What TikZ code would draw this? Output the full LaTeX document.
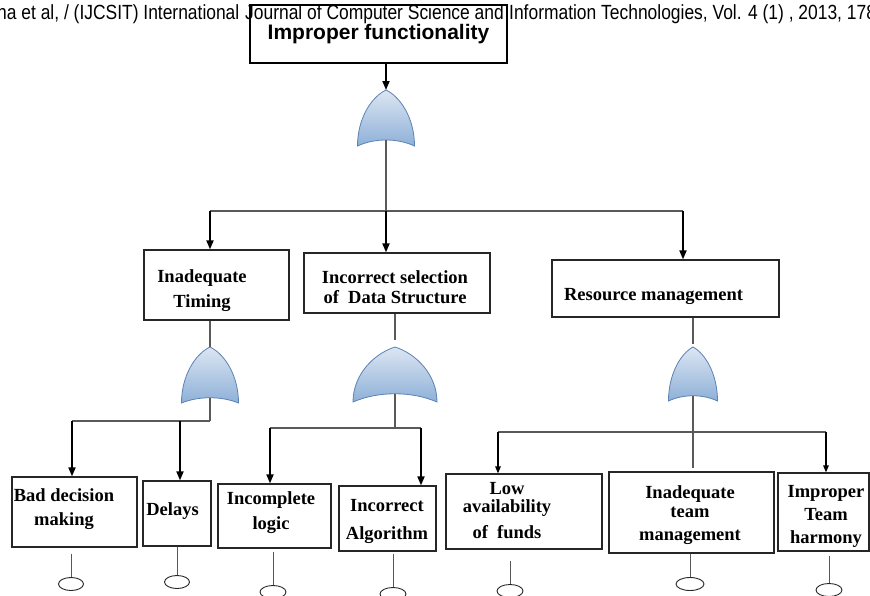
\documentclass[tikz,border=0pt]{standalone}
\usepackage{fontspec}
\setmainfont{Liberation Serif}
\newfontfamily\arialfont{Liberation Sans}
\usetikzlibrary{arrows.meta,shapes.geometric}

\definecolor{gatetop}{HTML}{DCE6F2}
\definecolor{gatebot}{HTML}{8EB0D8}
\definecolor{gateedge}{HTML}{5A82B4}

\tikzset{
  box/.style={draw=black!85, line width=1.2pt, inner sep=0pt},
  lbl/.style={font=\bfseries\fontsize{18.5}{23}\selectfont, align=center, inner sep=0pt},
  headtxt/.style={inner sep=0pt, anchor=base west, font=\arialfont\fontsize{20.5}{20.5}\selectfont},
  link/.style={draw=black!65, line width=1.1pt},
  arr/.style={line width=1.8pt, -{Triangle[length=9pt,width=7pt]}},
  thinarr/.style={line width=1.3pt, -{Triangle[length=7pt,width=5.5pt]}},
  leaf/.style={ellipse, draw=black!85, line width=0.9pt, minimum height=13pt, inner sep=0pt},
  pics/orgate/.style n args={3}{code={
    \path[draw=gateedge, line width=0.8pt, top color=gatetop, bottom color=gatebot]
      (0,0) .. controls (0.25*#1,0.12*#2) and (0.5*#1,0.5*#2) .. (0.5*#1,#2)
            .. controls (0.2*#1,#2-#3) and (-0.2*#1,#2-#3) .. (-0.5*#1,#2)
            .. controls (-0.5*#1,0.5*#2) and (-0.25*#1,0.12*#2) .. (0,0) -- cycle;
    \coordinate (-in) at (0,0);
    \coordinate (-out) at (0,#2-0.75*#3);
  }}
}

\begin{document}
\begin{tikzpicture}[x=1pt, y=-1pt]
  \useasboundingbox (0,0) rectangle (870,595);
  \clip (0,0) rectangle (870,595);

  % running head of the paper (justified line, so in pieces)
  \node[headtxt] (head-a) at (-3,19) {\scalebox{0.85}[1]{ha et al, / (IJCSIT) International}};
  \node[headtxt] (head-b) at (245,19) {\scalebox{0.85}[1]{Journal of Computer Science and}};
  \node[headtxt] (head-c) at (509,19) {\scalebox{0.85}[1]{Information Technologies, Vol. 4 (1) , 2013, 178}};

  % top event and gates
  \node[box, line width=2pt, draw=black, minimum width=257, minimum height=58,
        font=\arialfont\bfseries\fontsize{21}{21}\selectfont] (top) at (378.5,34) {\raisebox{-2pt}{Improper functionality}};
  \pic (g0) at (386,90) {orgate={57}{56}{8}};
  \pic (g1) at (210,347) {orgate={57}{56}{7}};
  \pic (g2) at (395,347) {orgate={84}{55}{11}};
  \pic (g3) at (693,347) {orgate={49}{54}{7}};

  % boxes
  \foreach \n/\x/\y/\w/\h in {timing/216.5/285/145/70, datastr/397/283/186/60, resource/665.5/288.5/227/57,
      bad/74.5/512/125/70, delays/177/513.5/68/65, incomplete/274.5/516/113/64, algorithm/387.5/518.5/97/65,
      funds/524/511.5/156/75, team/691.5/512.5/165/81, harmony/823.5/512/91/78}
    \node[box, minimum width=\w, minimum height=\h] (\n) at (\x,\y) {};

  % labels
  \node[lbl] (timing-t) at (202,291) {Inadequate\\[2pt]Timing};
  \node[lbl] (datastr-t) at (395,287) {Incorrect selection\\[-2.5pt]of\ \ Data Structure};
  \node[lbl] (resource-t) at (653.5,296) {Resource management};
  \node[lbl] (bad-t) at (64,509.5) {Bad decision\\[1pt]making};
  \node[lbl] (delays-t) at (172.5,510.7) {Delays};
  \node[lbl] (incomplete-t) at (271,513) {Incomplete\\[2pt]logic};
  \node[lbl] (algorithm-t) at (387,521.7) {Incorrect\\[5pt]Algorithm};
  \node[lbl] (funds-t) at (507,511) {Low\\[-5.3pt]availability\\[3.3pt]of\ \ funds};
  \node[lbl] (team-t) at (690,515.5) {Inadequate\\[-4pt]team\\management};
  \node[lbl] (harmony-t) at (826,516.7) {Improper\\Team\\harmony};

  % branch points
  \coordinate (b0l) at (210,211); \coordinate (b0r) at (683,211);
  \coordinate (b1l) at (72,421);  \coordinate (b1m) at (180,421); \coordinate (b1r) at (210,421);
  \coordinate (b2l) at (270,428); \coordinate (b2r) at (421,428);
  \coordinate (b3l) at (498,432); \coordinate (b3r) at (826,432); \coordinate (b3e) at (693,468);

  % top level
  \draw[arr] (g0-in |- top.south) -- (g0-in);
  \draw[link] (g0-out) -- (g0-out |- b0l);
  \draw[link] (b0l) -- (b0r);
  \draw[arr] (b0l) -- (b0l |- timing.north);
  \draw[arr] (g0-out |- b0l) -- (g0-out |- datastr.north);
  \draw[arr] (b0r) -- (b0r |- resource.north);

  % Inadequate Timing
  \draw[link] (g1-in |- timing.south) -- (g1-in);
  \draw[link] (g1-out) -- (b1r);
  \draw[link] (b1l) -- (b1r);
  \draw[arr] (b1l) -- (b1l |- bad.north);
  \draw[arr] (b1m) -- (b1m |- delays.north);

  % Data Structure
  \draw[link, shorten >=7pt] (g2-in |- datastr.south) -- (g2-in);
  \draw[link] (g2-out) -- (g2-out |- b2l);
  \draw[link] (b2l) -- (b2r);
  \draw[arr] (b2l) -- (b2l |- incomplete.north);
  \draw[arr] (b2r) -- (b2r |- algorithm.north);

  % Resource management
  \draw[link, shorten >=3pt] (g3-in |- resource.south) -- (g3-in);
  \draw[link] (g3-out) -- (b3e);
  \draw[link] (b3l) -- (b3r);
  \draw[thinarr] (b3l) -- (b3l |- funds.north);
  \draw[thinarr] (b3r) -- (b3r |- harmony.north);

  % basic events
  \foreach \b/\l/\x/\y/\w/\g in {bad/l1/71/584/25/6, delays/l2/177/582/25/0, incomplete/l3/273/592/26/3,
      algorithm/l4/393/594/26/2, funds/l5/510/591/26/11, team/l6/690/584/28/0, harmony/l7/829/590/26/4} {
    \node[leaf, minimum width=\w] (\l) at (\x,\y) {};
    \draw[link, line width=0.9pt, shorten <=\g pt] (\l |- \b.south) -- (\l);
  }
\end{tikzpicture}
\end{document}
